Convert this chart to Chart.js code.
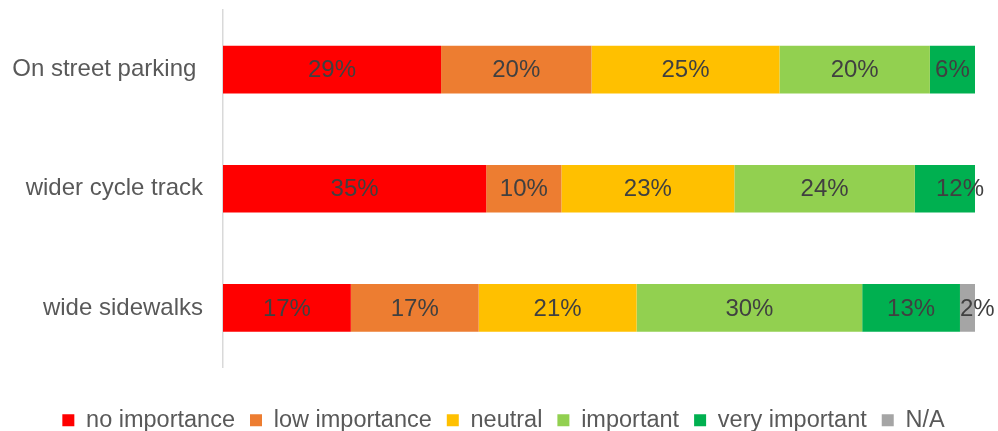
<!DOCTYPE html>
<html>
<head>
<meta charset="utf-8">
<script src="https://cdn.jsdelivr.net/npm/chart.js@4.4.1/dist/chart.umd.min.js"></script>
<style>
  html, body { margin: 0; padding: 0; background: #fff; }
  #wrap { width: 998px; height: 431px; }
</style>
</head>
<body>
<div id="wrap"><canvas id="chart"></canvas></div>
<script>
// categories and series (percent)
const categories = ['On street parking ', 'wider cycle track', 'wide sidewalks'];
const noImportance = [29, 35, 17];
const lowImportance = [20, 10, 17];
const neutral = [25, 23, 21];
const important = [20, 24, 30];
const veryImportant = [6, 12, 13];
const notApplicable = [0, 0, 2];

const seriesNames = ['no importance', 'low importance', 'neutral', 'important', 'very important', 'N/A'];
const seriesValues = [noImportance, lowImportance, neutral, important, veryImportant, notApplicable];
const seriesColors = ['#FF0000', '#ED7D31', '#FFC000', '#92D050', '#00B050', '#A5A5A5'];

const fontFamily = '"Liberation Sans", Arial, sans-serif';

// percent label centred on each segment; too-narrow segments get it left aligned
const segmentLabels = {
    id: 'segmentLabels',
    afterDatasetsDraw(chart) {
        const ctx = chart.ctx;
        ctx.save();
        ctx.font = '24px ' + fontFamily;
        ctx.fillStyle = '#404040';
        ctx.textBaseline = 'middle';
        chart.data.datasets.forEach((ds, i) => {
            const meta = chart.getDatasetMeta(i);
            meta.data.forEach((bar, j) => {
                const v = ds.data[j];
                if (!v) return;
                const text = v + '%';
                const left = Math.min(bar.base, bar.x);
                const right = Math.max(bar.base, bar.x);
                if (ctx.measureText(text).width > right - left) {
                    ctx.textAlign = 'left';
                    ctx.fillText(text, left, bar.y + 1);
                } else {
                    ctx.textAlign = 'center';
                    ctx.fillText(text, (left + right) / 2, bar.y + 1);
                }
            });
        });
        ctx.restore();
    }
};

// legend sits a bit right of the canvas centre
const legendShift = {
    id: 'legendShift',
    afterLayout(chart) {
        chart.legend.left += 16;
        chart.legend.right += 16;
    }
};

new Chart(document.getElementById('chart'), {
    type: 'bar',
    data: {
        labels: categories,
        datasets: seriesNames.map((name, i) => ({
            label: name,
            data: seriesValues[i],
            backgroundColor: seriesColors[i],
            borderWidth: 0,
            barPercentage: 0.8,
            categoryPercentage: 0.5,
            clip: 0
        }))
    },
    options: {
        indexAxis: 'y',
        responsive: true,
        maintainAspectRatio: false,
        animation: false,
        layout: { padding: { top: 10, right: 23, bottom: -11, left: 0 } },
        scales: {
            x: {
                stacked: true,
                min: 0,
                max: 100,
                grid: { display: false, drawTicks: false },
                border: { display: false },
                ticks: { display: false },
                afterFit(scale) { scale.height = 26; }
            },
            y: {
                stacked: true,
                grid: { display: false, drawTicks: false },
                border: { color: '#D9D9D9', width: 1.5 },
                ticks: {
                    color: '#595959',
                    font: { family: fontFamily, size: 24 },
                    padding: 20
                },
                afterFit(scale) {
                    scale.width = 223;
                    scale.paddingTop = 0;
                    scale.paddingBottom = 0;
                }
            }
        },
        plugins: {
            legend: {
                position: 'bottom',
                labels: {
                    boxWidth: 12,
                    boxHeight: 12,
                    padding: 15,
                    color: '#595959',
                    font: { family: fontFamily, size: 23.5 }
                }
            },
            tooltip: { enabled: false }
        }
    },
    plugins: [segmentLabels, legendShift]
});
</script>
</body>
</html>
